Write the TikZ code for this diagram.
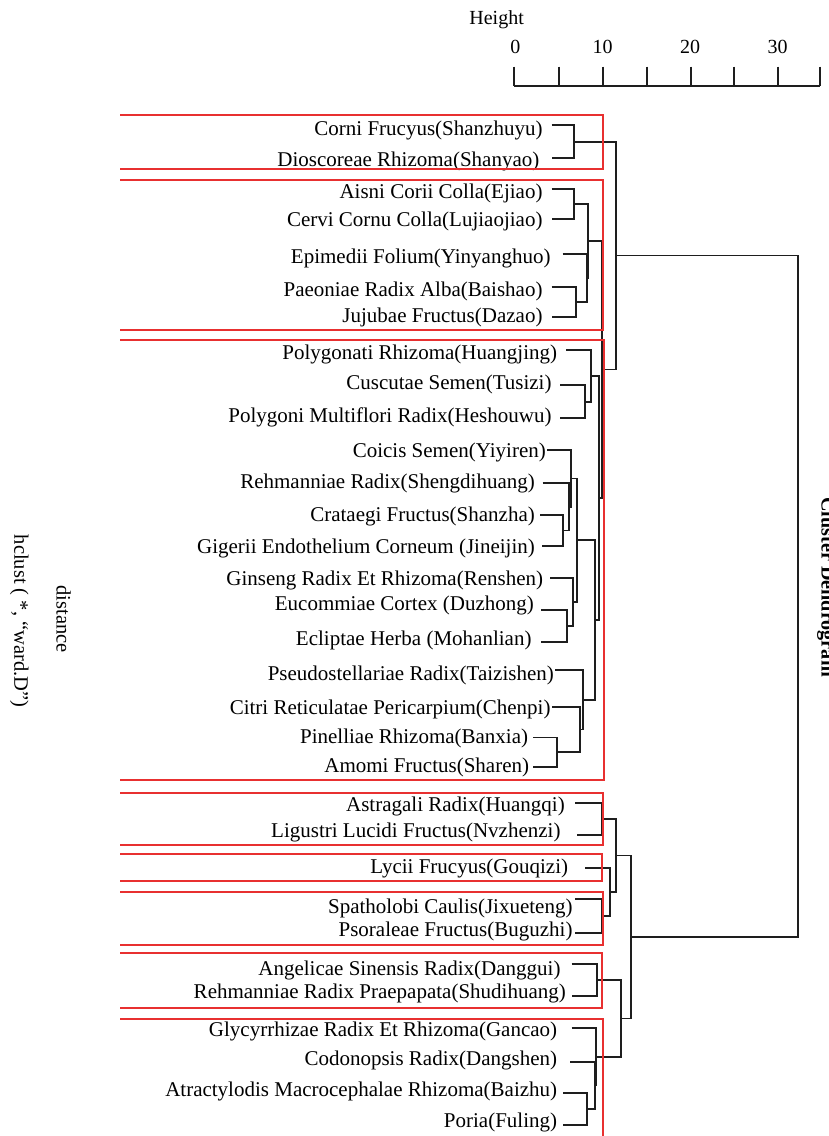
\documentclass[tikz,border=0pt]{standalone}
\usepackage{fontspec}
\setmainfont{Liberation Serif}
\definecolor{boxred}{RGB}{232,48,48}
\definecolor{dendgray}{RGB}{30,30,30}
\begin{document}
\begin{tikzpicture}[x=1pt,y=-1pt,
  dend/.style={draw=dendgray, line width=1.7pt},
  redbox/.style={draw=boxred, line width=1.8pt},
  leaf/.style={anchor=base east, inner sep=0pt, font=\fontsize{21}{25}\selectfont},
  axislab/.style={anchor=base, inner sep=0pt, font=\fontsize{20}{24}\selectfont},
  sidelab/.style={anchor=base, inner sep=0pt, rotate=-90, font=\fontsize{20.5}{24}\selectfont}]
\useasboundingbox (0,0) rectangle (829,1136);

% axis
\node[axislab, anchor=base east] (height) at (524,24) {Height};
\node[axislab] (h0) at (515.3,53.5) {0};
\node[axislab] (h10) at (602.7,53.5) {10};
\node[axislab] (h20) at (690,53.5) {20};
\node[axislab] (h30) at (777.7,53.5) {30};
\draw[dend, line width=1.8pt] (514.3,86) -- (820,86);
\foreach \tx in {514.3,559,603.3,646.7,690.7,734.3,778.3,820}
  \draw[dend, line width=1.8pt] (\tx,66.7) -- (\tx,86);

% side labels
\node[sidelab, font=\bfseries\fontsize{20.2}{24}\selectfont] (title) at (821.5,587) {Cluster Dendrogram};
\node[sidelab] (xlab) at (56.7,619) {distance};
\node[sidelab] (sublab) at (14.3,621) {hclust ( *, “ward.D”)};

% leaf labels
\node[leaf] (t1) at (542.7,135.3) {Corni Frucyus(Shanzhuyu)};
\node[leaf] (t2) at (539.5,166.3) {Dioscoreae Rhizoma(Shanyao)};
\node[leaf] (t3) at (542.7,198.7) {Aisni Corii Colla(Ejiao)};
\node[leaf] (t4) at (542.7,226.3) {Cervi Cornu Colla(Lujiaojiao)};
\node[leaf] (t5) at (550.7,263) {Epimedii Folium(Yinyanghuo)};
\node[leaf] (t6) at (542.7,296.3) {Paeoniae Radix Alba(Baishao)};
\node[leaf] (t7) at (542.7,322) {Jujubae Fructus(Dazao)};
\node[leaf] (t8) at (557.3,359.3) {Polygonati Rhizoma(Huangjing)};
\node[leaf] (t9) at (551.7,389.3) {Cuscutae Semen(Tusizi)};
\node[leaf] (t10) at (551.7,422.7) {Polygoni Multiflori Radix(Heshouwu)};
\node[leaf] (t11) at (546,457) {Coicis Semen(Yiyiren)};
\node[leaf] (t12) at (535,488.7) {Rehmanniae Radix(Shengdihuang)};
\node[leaf] (t13) at (535,521) {Crataegi Fructus(Shanzha)};
\node[leaf] (t14) at (535,553.7) {Gigerii Endothelium Corneum (Jineijin)};
\node[leaf] (t15) at (543.3,585.3) {Ginseng Radix Et Rhizoma(Renshen)};
\node[leaf] (t16) at (534,610.3) {Eucommiae Cortex (Duzhong)};
\node[leaf] (t17) at (531.7,645.3) {Ecliptae Herba (Mohanlian)};
\node[leaf] (t18) at (554,680) {Pseudostellariae Radix(Taizishen)};
\node[leaf] (t19) at (550.7,714.7) {Citri Reticulatae Pericarpium(Chenpi)};
\node[leaf] (t20) at (528.3,743.7) {Pinelliae Rhizoma(Banxia)};
\node[leaf] (t21) at (529.3,772) {Amomi Fructus(Sharen)};
\node[leaf] (t22) at (565,811) {Astragali Radix(Huangqi)};
\node[leaf] (t23) at (560.7,837.7) {Ligustri Lucidi Fructus(Nvzhenzi)};
\node[leaf] (t24) at (568.3,873.7) {Lycii Frucyus(Gouqizi)};
\node[leaf] (t25) at (572.7,913) {Spatholobi Caulis(Jixueteng)};
\node[leaf] (t26) at (572.7,936.3) {Psoraleae Fructus(Buguzhi)};
\node[leaf] (t27) at (560.7,975.3) {Angelicae Sinensis Radix(Danggui)};
\node[leaf] (t28) at (566,998.7) {Rehmanniae Radix Praepapata(Shudihuang)};
\node[leaf] (t29) at (557.3,1036.3) {Glycyrrhizae Radix Et Rhizoma(Gancao)};
\node[leaf] (t30) at (557.3,1065.3) {Codonopsis Radix(Dangshen)};
\node[leaf] (t31) at (557.3,1096.3) {Atractylodis Macrocephalae Rhizoma(Baizhu)};
\node[leaf] (t32) at (557.3,1127.7) {Poria(Fuling)};

% leaf line starts
\coordinate (l1) at (551.7,125);
\coordinate (l2) at (551.7,158.3);
\coordinate (l3) at (551.7,189.3);
\coordinate (l4) at (551.7,219.3);
\coordinate (l5) at (562.7,254);
\coordinate (l6) at (551.7,286.7);
\coordinate (l7) at (551.7,317.3);
\coordinate (l8) at (566,350);
\coordinate (l9) at (560,385);
\coordinate (l10) at (560,418.3);
\coordinate (l11) at (547,450);
\coordinate (l12) at (542.7,483);
\coordinate (l13) at (540,515);
\coordinate (l14) at (541.7,546);
\coordinate (l15) at (550,578.3);
\coordinate (l16) at (541,610);
\coordinate (l17) at (541,641.7);
\coordinate (l18) at (555,670);
\coordinate (l19) at (552,706.7);
\coordinate (l20) at (533.3,737.5);
\coordinate (l21) at (533.3,767);
\coordinate (l22) at (575,803);
\coordinate (l23) at (576.7,835);
\coordinate (l24) at (585,867.7);
\coordinate (l25) at (575,899.3);
\coordinate (l26) at (575,933.3);
\coordinate (l27) at (571.7,964.3);
\coordinate (l28) at (571.7,996);
\coordinate (l29) at (571.7,1028.3);
\coordinate (l30) at (570,1061.7);
\coordinate (l31) at (563.3,1093.3);
\coordinate (l32) at (563.3,1125);

% internal merge points
\coordinate (A) at (574,141.65);
\coordinate (B) at (574,204.3);
\coordinate (C) at (575.7,302);
\coordinate (D) at (587.3,278);
\coordinate (E) at (588.3,241.15);
\coordinate (H) at (585,401.65);
\coordinate (I) at (590.7,375.8);
\coordinate (J) at (563.3,530.5);
\coordinate (K) at (569.3,506.75);
\coordinate (L) at (570.7,478.4);
\coordinate (M) at (566.7,625.85);
\coordinate (N) at (573.3,602.1);
\coordinate (O) at (577.3,540.25);
\coordinate (P) at (557.3,752.25);
\coordinate (Q) at (580,729.5);
\coordinate (R) at (583.3,699.75);
\coordinate (S) at (595,620);
\coordinate (T) at (599,497.9);
\coordinate (G) at (601.7,369.5);
\coordinate (U) at (615.7,255.6);
\coordinate (V) at (601.7,819);
\coordinate (W) at (601.7,916.3);
\coordinate (X) at (610,892);
\coordinate (Y) at (616,855.5);
\coordinate (Z) at (596.7,980.15);
\coordinate (na) at (587.3,1109.15);
\coordinate (nb) at (595,1085.4);
\coordinate (nc) at (596,1056.85);
\coordinate (nd) at (621,1018.5);
\coordinate (ne) at (630.7,937);
\coordinate (root) at (798,596.3);

% dendrogram elbows
\draw[dend] (l1) -| (A) |- (l2);
\draw[dend] (l3) -| (B) |- (l4);
\draw[dend] (l6) -| (C) |- (l7);
\draw[dend] (l5) -| (D) |- (C);
\draw[dend] (B) -| (E) |- (D);
\draw[dend] (l9) -| (H) |- (l10);
\draw[dend] (l8) -| (I) |- (H);
\draw[dend] (l13) -| (J) |- (l14);
\draw[dend] (l12) -| (K) |- (J);
\draw[dend] (l11) -| (L) |- (K);
\draw[dend] (l16) -| (M) |- (l17);
\draw[dend] (l15) -| (N) |- (M);
\draw[dend] (L) -| (O) |- (N);
\draw[dend] (l20) -| (P) |- (l21);
\draw[dend] (l19) -| (Q) |- (P);
\draw[dend] (l18) -| (R) |- (Q);
\draw[dend] (O) -| (S) |- (R);
\draw[dend] (I) -| (T) |- (S);
\draw[dend] (E) -| (G) |- (T);
\draw[dend] (A) -| (U) |- (G);
\draw[dend] (l22) -| (V) |- (l23);
\draw[dend] (l25) -| (W) |- (l26);
\draw[dend] (l24) -| (X) |- (W);
\draw[dend] (V) -| (Y) |- (X);
\draw[dend] (l27) -| (Z) |- (l28);
\draw[dend] (l31) -| (na) |- (l32);
\draw[dend] (l30) -| (nb) |- (na);
\draw[dend] (l29) -| (nc) |- (nb);
\draw[dend] (Z) -| (nd) |- (nc);
\draw[dend] (Y) -| (ne) |- (nd);
\draw[dend] (U) -| (root) |- (ne);

% red group boxes (open on the left)
\draw[redbox] (120,115) -| (602.7,168.7) -- (120,168.7);
\draw[redbox] (120,180) -| (602.7,330) -- (120,330);
\draw[redbox] (120,340) -| (604,780) -- (120,780);
\draw[redbox] (120,792.7) -| (603.3,845) -- (120,845);
\draw[redbox] (120,854) -| (601.7,880.7) -- (120,880.7);
\draw[redbox] (120,891.7) -| (603.3,945) -- (120,945);
\draw[redbox] (120,953.3) -| (601.7,1008.3) -- (120,1008.3);
\draw[redbox] (120,1019) -| (603.3,1140);
\end{tikzpicture}
\end{document}
